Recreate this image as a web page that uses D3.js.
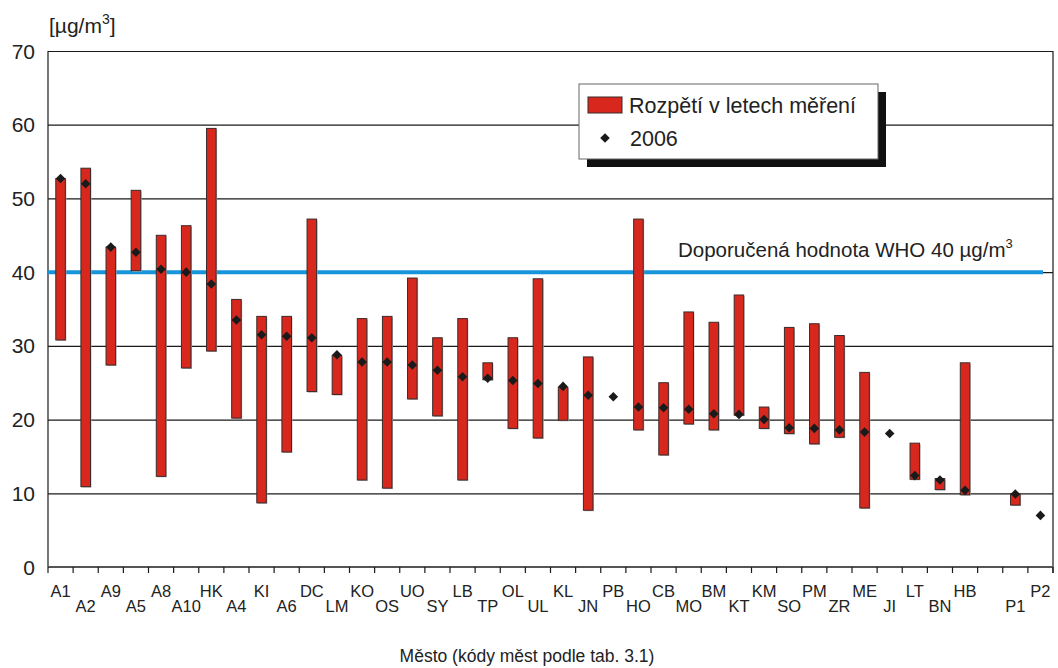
<!DOCTYPE html>
<html>
<head>
<meta charset="utf-8">
<script src="https://cdn.jsdelivr.net/npm/d3@7"></script>
<style>
    body { margin: 0; background: #fff; }
    svg { display: block; font-family: "Liberation Sans", Arial, sans-serif; }
</style>
</head>
<body>
<div id="chart"></div>
<script>
// city codes (empty slot between HB and P1 is in the original too)
const cities = ['A1','A2','A9','A5','A8','A10','HK','A4','KI','A6','DC','LM','KO','OS','UO','SY','LB','TP','OL','UL',
                'KL','JN','PB','HO','CB','MO','BM','KT','KM','SO','PM','ZR','ME','JI','LT','BN','HB','','P1','P2'];
// 0 = upper label row, 1 = lower label row
const labelRow = [0,1,0,1,0,1,0,1,0,1,0,1,0,1,0,1,0,1,0,1,
                  0,1,0,1,0,1,0,1,0,1,0,1,0,1,0,1,0,1,1,0];
// range over the years of measurement
const rangeMin = [30.8,10.9,27.4,40.2,12.3,27.0,29.3,20.2,8.7,15.6,23.8,23.4,11.8,10.7,22.8,20.5,11.8,25.4,18.8,17.5,
                  19.9,7.7,null,18.6,15.2,19.4,18.6,20.6,18.8,18.1,16.7,17.6,8.0,null,11.9,10.5,9.8,null,8.4,null];
const rangeMax = [52.7,54.1,43.4,51.1,45.0,46.3,59.5,36.3,34.0,34.0,47.2,28.7,33.7,34.0,39.2,31.1,33.7,27.7,31.1,39.1,
                  24.4,28.5,null,47.2,25.0,34.6,33.2,36.9,21.7,32.5,33.0,31.4,26.4,null,16.8,12.0,27.7,null,9.9,null];
// 2006 values
const value2006 = [52.7,52.0,43.4,42.7,40.4,40.0,38.4,33.5,31.5,31.3,31.1,28.8,27.8,27.8,27.4,26.7,25.8,25.6,25.3,24.9,
                   24.5,23.3,23.1,21.7,21.6,21.4,20.8,20.7,20.0,18.9,18.8,18.6,18.3,18.1,12.4,11.8,10.4,null,9.9,7.0];
const yTicks = [0,10,20,30,40,50,60,70];
const whoLimit = 40;

document.addEventListener('DOMContentLoaded', () => {
    createChart();
});

function createChart(){
    const width = 1058;
    const height = 668;
    const margin = {top: 51, right: 5, bottom: 101, left: 48};
    const usableArea = {
        top: margin.top,
        right: width - margin.right,
        bottom: height - margin.bottom,
        left: margin.left,
        width: width - margin.left - margin.right,
        height: height - margin.top - margin.bottom,
    };

    const rows = cities.map((c, i) => ({
        id: i,
        city: c,
        min: rangeMin[i],
        max: rangeMax[i],
        v: value2006[i],
        row: labelRow[i],
    }));

    const svg = d3.select('#chart')
                  .append('svg')
                  .attr('width', width)
                  .attr('height', height);

    const xScale = d3.scaleBand()
                     .domain(rows.map((d) => d.id))
                     .range([usableArea.left, usableArea.right]);
    const yScale = d3.scaleLinear().domain([0, 70]).range([usableArea.bottom, usableArea.top]);
    const bw = xScale.bandwidth();

    // horizontal gridlines, no labels
    svg.append('g')
       .attr('class', 'gridlines')
       .attr('transform', `translate(${usableArea.left},0)`)
       .call(d3.axisLeft(yScale).tickValues(yTicks).tickFormat('').tickSize(-usableArea.width))
       .call((g) => g.select('.domain').remove())
       .selectAll('line')
       .attr('stroke', '#1a1a1a')
       .attr('stroke-width', 1.2);

    // frame sides
    svg.append('line')
       .attr('x1', usableArea.left).attr('x2', usableArea.left)
       .attr('y1', usableArea.top).attr('y2', usableArea.bottom)
       .attr('stroke', '#1a1a1a').attr('stroke-width', 1.2);
    svg.append('line')
       .attr('x1', usableArea.right).attr('x2', usableArea.right)
       .attr('y1', usableArea.top).attr('y2', usableArea.bottom + 6)
       .attr('stroke', '#1a1a1a').attr('stroke-width', 1.2);

    // y labels
    svg.append('g')
       .selectAll('text')
       .data(yTicks)
       .join('text')
       .attr('x', 35)
       .attr('y', (d) => yScale(d))
       .attr('dy', '0.36em')
       .attr('text-anchor', 'end')
       .attr('font-size', 21)
       .attr('fill', '#222')
       .text((d) => d);

    // unit
    const unit = svg.append('text')
                    .attr('x', 49)
                    .attr('y', 33)
                    .attr('font-size', 21)
                    .attr('fill', '#222');
    unit.append('tspan').text('[µg/m');
    unit.append('tspan').attr('font-size', 14).attr('dy', -9).text('3');
    unit.append('tspan').attr('dy', 9).text(']');

    // WHO line
    svg.append('line')
       .attr('x1', usableArea.left)
       .attr('x2', 1043)
       .attr('y1', yScale(whoLimit))
       .attr('y2', yScale(whoLimit))
       .attr('stroke', '#1795db')
       .attr('stroke-width', 4);

    const who = svg.append('text')
                   .attr('x', 678)
                   .attr('y', 257)
                   .attr('font-size', 20.5)
                   .attr('fill', '#222');
    who.append('tspan').text('Doporučená hodnota WHO 40 µg/m');
    who.append('tspan').attr('font-size', 13).attr('dy', -9).text('3');

    // bars (only where a range exists)
    const barW = bw * 0.38;
    const withRange = rows.filter((d) => d.min != null && d.max != null);

    svg.append('g')
       .attr('class', 'bar-shadows')
       .selectAll('rect')
       .data(withRange)
       .join('rect')
       .attr('x', (d) => xScale(d.id) + bw / 2 - barW / 2 + 1)
       .attr('y', (d) => yScale(d.max) + 1)
       .attr('width', barW)
       .attr('height', (d) => yScale(d.min) - yScale(d.max))
       .attr('fill', '#b5b5b5');

    svg.append('g')
       .attr('class', 'bars')
       .selectAll('rect')
       .data(withRange)
       .join('rect')
       .attr('x', (d) => xScale(d.id) + bw / 2 - barW / 2)
       .attr('y', (d) => yScale(d.max))
       .attr('width', barW)
       .attr('height', (d) => yScale(d.min) - yScale(d.max))
       .attr('fill', '#d8281e')
       .attr('stroke', '#3b2a28')
       .attr('stroke-width', 1);

    // 2006 diamonds
    const diamond = d3.symbol().type(d3.symbolSquare).size(46);
    svg.append('g')
       .attr('class', 'dots')
       .selectAll('path')
       .data(rows.filter((d) => d.v != null))
       .join('path')
       .attr('d', diamond)
       .attr('transform', (d) => `translate(${xScale(d.id) + bw / 2},${yScale(d.v)}) rotate(45)`)
       .attr('fill', '#1a1a1a');

    // bottom axis: line + ticks on category boundaries
    svg.append('line')
       .attr('x1', usableArea.left).attr('x2', usableArea.right)
       .attr('y1', usableArea.bottom).attr('y2', usableArea.bottom)
       .attr('stroke', '#555').attr('stroke-width', 1.8);

    const edges = rows.map((d) => xScale(d.id)).concat([usableArea.right]);
    svg.append('g')
       .selectAll('line')
       .data(edges)
       .join('line')
       .attr('x1', (d) => d).attr('x2', (d) => d)
       .attr('y1', usableArea.bottom).attr('y2', usableArea.bottom + 6)
       .attr('stroke', '#1a1a1a').attr('stroke-width', 1.2);

    svg.append('g')
       .selectAll('text')
       .data(rows)
       .join('text')
       .attr('x', (d) => xScale(d.id) + bw / 2)
       .attr('y', (d) => d.row ? 612 : 597)
       .attr('text-anchor', 'middle')
       .attr('font-size', 16.5)
       .attr('fill', '#222')
       .text((d) => d.city);

    // axis title
    svg.append('text')
       .attr('x', 527)
       .attr('y', 662)
       .attr('text-anchor', 'middle')
       .attr('font-size', 17.5)
       .attr('fill', '#222')
       .text('Město (kódy měst podle tab. 3.1)');

    // legend box with dark drop shadow
    const legend = svg.append('g').attr('class', 'legend');
    legend.append('rect')
          .attr('x', 587).attr('y', 92)
          .attr('width', 299).attr('height', 75)
          .attr('fill', '#111');
    legend.append('rect')
          .attr('x', 579).attr('y', 84)
          .attr('width', 299).attr('height', 75)
          .attr('fill', '#fff')
          .attr('stroke', '#666')
          .attr('stroke-width', 1);
    legend.append('rect')
          .attr('x', 588).attr('y', 97)
          .attr('width', 34).attr('height', 16)
          .attr('fill', '#d8281e')
          .attr('stroke', '#3b2a28');
    legend.append('text')
          .attr('x', 629).attr('y', 113)
          .attr('font-size', 21.5)
          .attr('fill', '#222')
          .text('Rozpětí v letech měření');
    legend.append('path')
          .attr('d', diamond)
          .attr('transform', 'translate(605,138) rotate(45)')
          .attr('fill', '#1a1a1a');
    legend.append('text')
          .attr('x', 630).attr('y', 146)
          .attr('font-size', 21.5)
          .attr('fill', '#222')
          .text('2006');
}
</script>
</body>
</html>
